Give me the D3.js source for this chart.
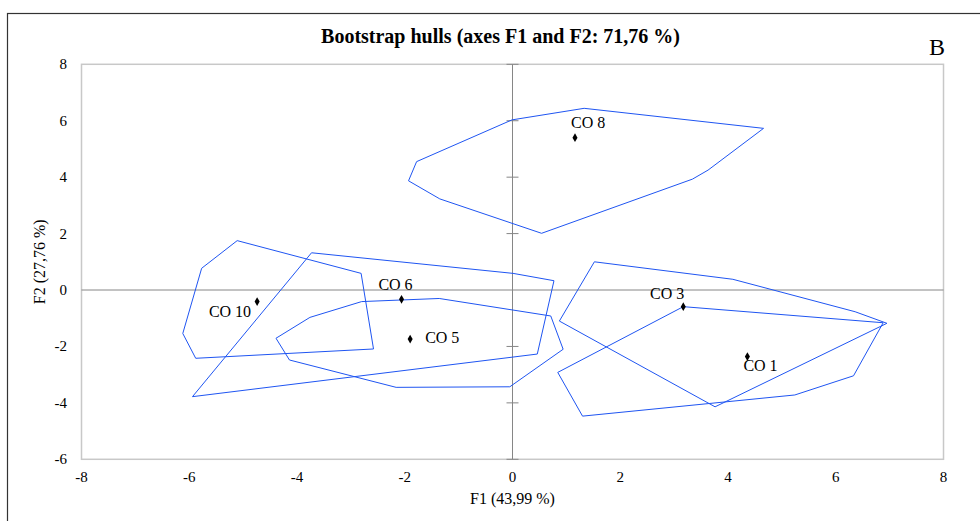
<!DOCTYPE html>
<html>
<head>
  <meta charset="utf-8">
  <title>Bootstrap hulls</title>
  <style type="text/css">
  body { margin: 0; background: #fff; }
  svg text { font-family: "Liberation Serif", "Times New Roman", serif; fill: #000; }
  .hull { fill: none; stroke: #1f55f2; stroke-width: 1; }
  </style>
</head>
<body>
  <script src="https://d3js.org/d3.v7.min.js"></script>
  <div id="chart"></div>
  <script>

  // Observations (centroids) on F1 / F2
  var names = ["CO 1", "CO 3", "CO 5", "CO 6", "CO 8", "CO 10"];
  var f1 = [4.36, 3.17, -1.90, -2.06, 1.16, -4.74];
  var f2 = [-2.36, -0.59, -1.74, -0.33, 5.40, -0.41];

  // Bootstrap hull vertices for each observation, [F1, F2]
  var hullCO1 = [[3.17, -0.59], [6.88, -1.16], [6.33, -3.04], [5.24, -3.72], [1.30, -4.47], [0.84, -2.92]];
  var hullCO3 = [[1.52, 1.00], [4.09, 0.38], [6.36, -0.77], [6.95, -1.18], [3.76, -4.14], [0.87, -1.10]];
  var hullCO5 = [[-4.39, -1.71], [-3.76, -0.97], [-2.80, -0.41], [-1.36, -0.30], [0.71, -0.92],
                 [0.94, -2.10], [-0.05, -3.43], [-2.16, -3.45], [-4.14, -2.48]];
  var hullCO6 = [[-3.73, 1.32], [0.01, 0.59], [0.77, 0.33], [0.46, -2.27], [-5.94, -3.78]];
  var hullCO8 = [[-0.01, 6.03], [1.33, 6.44], [4.66, 5.73], [3.63, 4.25], [3.34, 3.93],
                 [0.54, 2.01], [-1.35, 3.23], [-1.93, 3.87], [-1.78, 4.55]];
  var hullCO10 = [[-5.11, 1.75], [-2.81, 0.59], [-2.58, -2.09], [-5.88, -2.42], [-6.12, -1.54], [-5.77, 0.77]];
  var hulls = [hullCO1, hullCO3, hullCO5, hullCO6, hullCO8, hullCO10];

  var xTicks = [-8, -6, -4, -2, 0, 2, 4, 6, 8];
  var yTicks = [-6, -4, -2, 0, 2, 4, 6, 8];

  var width = 980, height = 521;

  // where each point label sits relative to its point
  var labelPos = {
    "CO 1":  { dx: -4,  dy: 14,  anchor: "start" },
    "CO 3":  { dx: 1,   dy: -8,  anchor: "end" },
    "CO 5":  { dx: 15,  dy: 4,   anchor: "start" },
    "CO 6":  { dx: -6,  dy: -9,  anchor: "middle" },
    "CO 8":  { dx: -4,  dy: -10, anchor: "start" },
    "CO 10": { dx: -6,  dy: 15,  anchor: "end" }
  };

  var svg = d3.select("#chart")
    .append("svg")
      .attr("width", width)
      .attr("height", height);

  // outer frame (cut by the page edge)
  svg.append("rect")
    .attr("x", 7.5).attr("y", 13.5)
    .attr("width", 1000).attr("height", 600)
    .attr("fill", "none")
    .attr("stroke", "#333")
    .attr("stroke-width", 1.2);

  var x = d3.scaleLinear().domain([-8, 8]).range([81.5, 943.5]);
  var y = d3.scaleLinear().domain([-6, 8]).range([459.3, 64.3]);

  // plot area border
  svg.append("rect")
    .attr("x", x(-8)).attr("y", y(8))
    .attr("width", x(8) - x(-8)).attr("height", y(-6) - y(8))
    .attr("fill", "none")
    .attr("stroke", "#c8c8c8")
    .attr("stroke-width", 1.5);

  // zero lines
  svg.append("line")
    .attr("x1", x(-8)).attr("x2", x(8))
    .attr("y1", y(0)).attr("y2", y(0))
    .attr("stroke", "#868686");
  svg.append("line")
    .attr("x1", x(0)).attr("x2", x(0))
    .attr("y1", y(8)).attr("y2", y(-6))
    .attr("stroke", "#868686");

  // cross ticks on the vertical zero line
  svg.append("g")
    .selectAll("line")
    .data(yTicks.filter(function(d) { return d !== 0; }))
    .enter()
    .append("line")
      .attr("x1", x(0) - 6).attr("x2", x(0) + 6)
      .attr("y1", function(d) { return y(d); })
      .attr("y2", function(d) { return y(d); })
      .attr("stroke", "#868686");

  // tick labels
  svg.append("g")
    .selectAll("text")
    .data(yTicks)
    .enter()
    .append("text")
      .attr("x", 67)
      .attr("y", function(d) { return y(d) + 5; })
      .attr("text-anchor", "end")
      .style("font-size", "15px")
      .text(function(d) { return d; });

  svg.append("g")
    .selectAll("text")
    .data(xTicks)
    .enter()
    .append("text")
      .attr("x", function(d) { return x(d); })
      .attr("y", 481.5)
      .attr("text-anchor", "middle")
      .style("font-size", "15px")
      .text(function(d) { return d; });

  // hulls
  var line = d3.line()
    .x(function(d) { return x(d[0]); })
    .y(function(d) { return y(d[1]); })
    .curve(d3.curveLinearClosed);

  svg.append("g")
    .selectAll("path")
    .data(hulls)
    .enter()
    .append("path")
      .attr("class", "hull")
      .attr("d", line);

  // points
  var pts = names.map(function(n, i) { return { name: n, f1: f1[i], f2: f2[i] }; });

  svg.append("g")
    .selectAll("path")
    .data(pts)
    .enter()
    .append("path")
      .attr("d", d3.symbol().type(d3.symbolDiamond).size(22))
      .attr("transform", function(d) { return "translate(" + x(d.f1) + "," + y(d.f2) + ")"; })
      .attr("fill", "#000");

  svg.append("g")
    .selectAll("text")
    .data(pts)
    .enter()
    .append("text")
      .attr("x", function(d) { return x(d.f1) + labelPos[d.name].dx; })
      .attr("y", function(d) { return y(d.f2) + labelPos[d.name].dy; })
      .attr("text-anchor", function(d) { return labelPos[d.name].anchor; })
      .style("font-size", "16px")
      .text(function(d) { return d.name; });

  // titles
  svg.append("text")
    .attr("x", 500.5).attr("y", 42.5)
    .attr("text-anchor", "middle")
    .style("font-size", "20px")
    .style("font-weight", "bold")
    .text("Bootstrap hulls (axes F1 and F2: 71,76 %)");

  svg.append("text")
    .attr("x", 929).attr("y", 55)
    .style("font-size", "24px")
    .text("B");

  svg.append("text")
    .attr("x", 512.5).attr("y", 504)
    .attr("text-anchor", "middle")
    .style("font-size", "16px")
    .text("F1 (43,99 %)");

  svg.append("text")
    .attr("transform", "translate(45," + ((y(8) + y(-6)) / 2) + ") rotate(-90)")
    .attr("text-anchor", "middle")
    .style("font-size", "16px")
    .text("F2 (27,76 %)");

  </script>
</body>
</html>
